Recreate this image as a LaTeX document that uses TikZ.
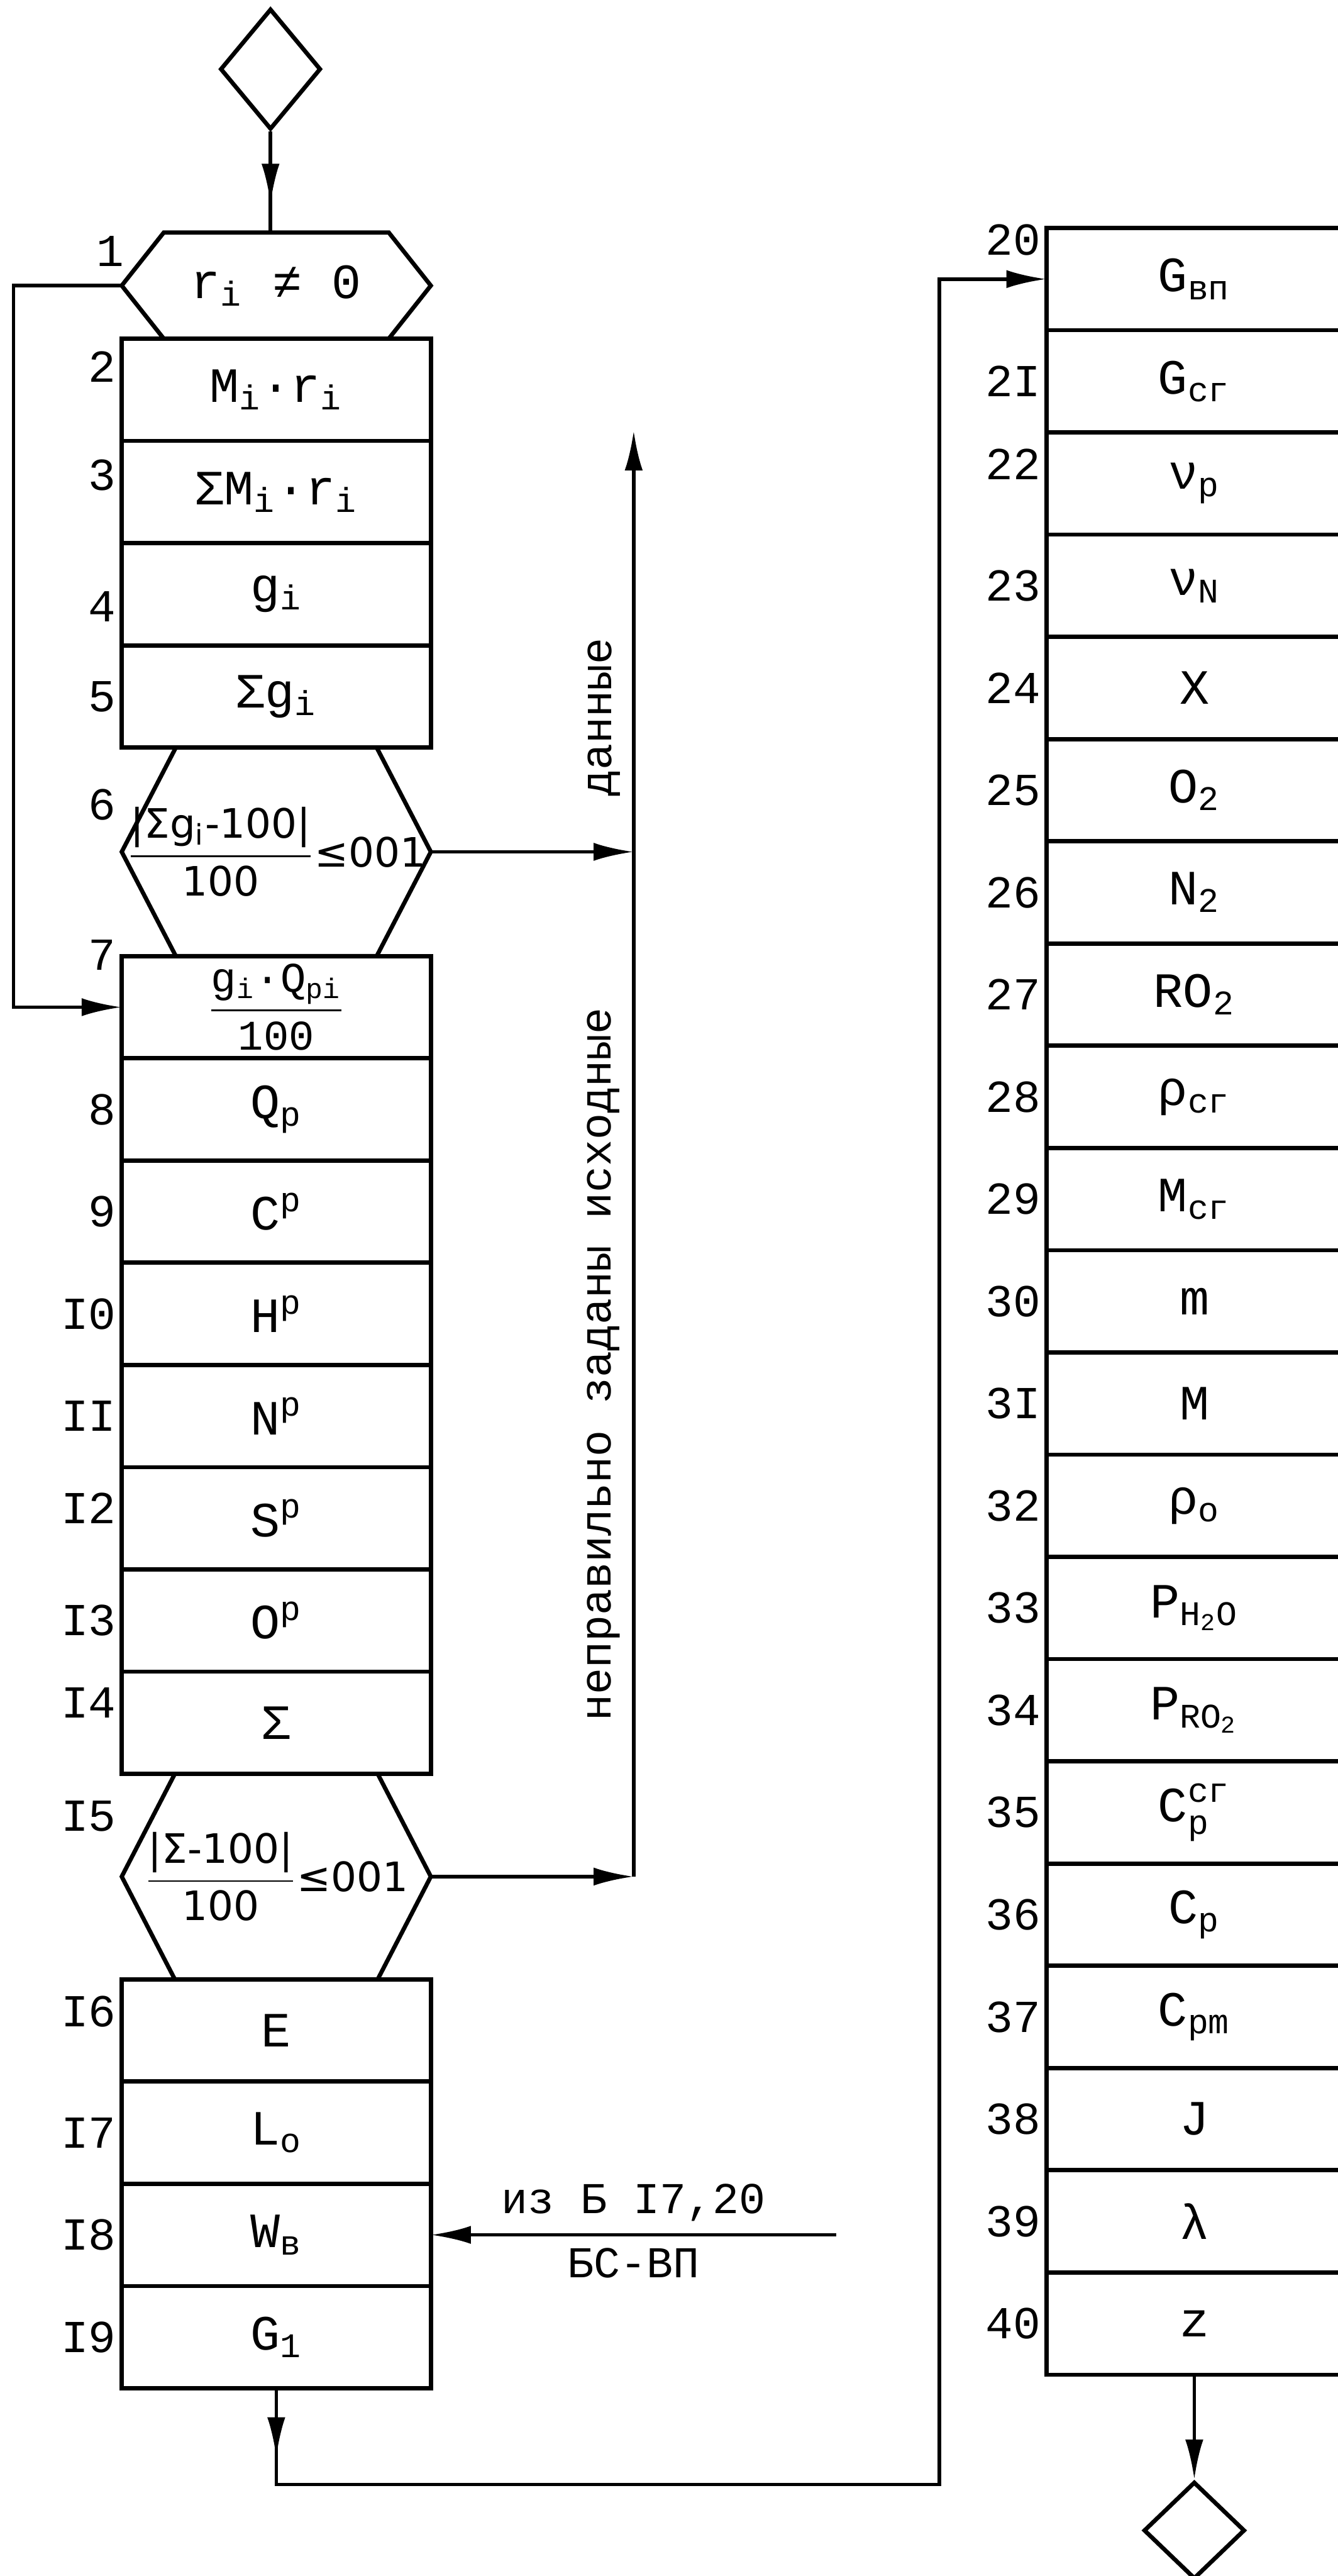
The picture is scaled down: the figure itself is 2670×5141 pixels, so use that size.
\documentclass[tikz,border=0pt]{standalone}
\usepackage{fontspec}
\usepackage{amsmath}
\setmainfont{Liberation Mono}
\newfontfamily\hexfont{DejaVu Sans}
\usetikzlibrary{arrows.meta, positioning, shapes.geometric, decorations.markings}
\newcommand{\hfr}[2]{$\dfrac{\text{#1}}{\text{#2}}$}
\tikzset{
  every picture/.style={line width=1pt},
  lbox/.style={draw, line width=1.2pt, minimum width=30.85mm, minimum height=10.2mm, inner sep=0pt, outer sep=0pt, font=\fontsize{14}{16}\selectfont, label distance=1.7mm},
  rbox/.style={lbox, minimum width=29.55mm, label distance=0.3mm},
  hexnode/.style={lbox, draw=none},
  formula/.style={font=\fontsize{11.5}{13}\hexfont},
  every label/.style={font=\fontsize{13}{15}\selectfont, inner sep=0.4mm},
  side/.style={font=\fontsize{12.5}{14}\selectfont},
  endbox/.style={draw, shape=diamond, inner sep=0pt, line width=1.2pt},
  boxline/.style={line width=1.2pt},
  arrow/.style={-{Latex[length=4mm, width=1.8mm]}},
  midarrow/.style={postaction={decorate}, decoration={markings, mark=at position #1 with {\arrow{Latex[length=4mm, width=1.8mm]}}}},
}

\begin{document}
\begin{tikzpicture}[x=0.05mm, y=-0.05mm]
  \useasboundingbox (0,0) rectangle (2670,5141);

  % left column
  \node[endbox, minimum width=10.05mm, minimum height=12.05mm] (d1) at (540,138) {};
  \node[hexnode, minimum height=10.6mm, label={[yshift=3.4mm, xshift=0.8mm]left:1}] (h1) at (551.5,570) {r\textsubscript{i} ≠ 0};
  \node[lbox, below=0pt of h1, label={[yshift=2.3mm]left:2}] (b2) {M\textsubscript{i}·r\textsubscript{i}};
  \node[lbox, below=0pt of b2, label={[yshift=1.7mm]left:3}] (b3) {ΣM\textsubscript{i}·r\textsubscript{i}};
  \node[lbox, below=0pt of b3, label={[yshift=-1.2mm]left:4}] (b4) {g\textsubscript{i}};
  \node[lbox, below=0pt of b4, label=left:5] (b5) {Σg\textsubscript{i}};
  \node[hexnode, formula, minimum height=20.8mm, below=0pt of b5, label={[yshift=4.7mm]left:6}] (h6) {\hfr{|Σg\textsubscript{i}-100|}{100}≤001};
  \node[lbox, below=0pt of h6, font=\fontsize{12}{14}\selectfont, label={[yshift=5.2mm]left:7}] (b7) {\hfr{g\textsubscript{i}·Q\textsubscript{pi}}{100}};
  \node[lbox, below=0pt of b7, label=left:8] (b8) {Q\textsubscript{p}};
  \node[lbox, below=0pt of b8, label=left:9] (b9) {C\textsuperscript{p}};
  \node[lbox, below=0pt of b9, label=left:I0] (b10) {H\textsuperscript{p}};
  \node[lbox, below=0pt of b10, label=left:II] (b11) {N\textsuperscript{p}};
  \node[lbox, below=0pt of b11, label={[yshift=1mm]left:I2}] (b12) {S\textsuperscript{p}};
  \node[lbox, below=0pt of b12, label=left:I3] (b13) {O\textsuperscript{p}};
  \node[lbox, below=0pt of b13, label={[yshift=2mm]left:I4}] (b14) {Σ};
  \node[hexnode, formula, minimum height=20.5mm, below=0pt of b14, label={[yshift=6mm]left:I5}] (h15) {\hfr{|Σ-100|}{100}≤001};
  \node[lbox, below=0pt of h15, label={[yshift=1.9mm]left:I6}] (b16) {E};
  \node[lbox, below=0pt of b16, label=left:I7] (b17) {L\textsubscript{o}};
  \node[lbox, below=0pt of b17, label=left:I8] (b18) {W\textsubscript{в}};
  \node[lbox, below=0pt of b18, label=left:I9] (b19) {G\textsubscript{1}};

  % right column
  \node[rbox, label={[yshift=3.9mm]left:20}] (b20) at (2384.5,557) {G\textsubscript{вп}};
  \node[rbox, below=0pt of b20, label=left:2I] (b21) {G\textsubscript{сг}};
  \node[rbox, below=0pt of b21, label={[yshift=1.9mm]left:22}] (b22) {ν\textsubscript{p}};
  \node[rbox, below=0pt of b22, label=left:23] (b23) {ν\textsubscript{N}};
  \node[rbox, below=0pt of b23, label=left:24] (b24) {X};
  \node[rbox, below=0pt of b24, label=left:25] (b25) {O\textsubscript{2}};
  \node[rbox, below=0pt of b25, label=left:26] (b26) {N\textsubscript{2}};
  \node[rbox, below=0pt of b26, label=left:27] (b27) {RO\textsubscript{2}};
  \node[rbox, below=0pt of b27, label=left:28] (b28) {ρ\textsubscript{сг}};
  \node[rbox, below=0pt of b28, label=left:29] (b29) {M\textsubscript{сг}};
  \node[rbox, below=0pt of b29, label=left:30] (b30) {m};
  \node[rbox, below=0pt of b30, label=left:3I] (b31) {M};
  \node[rbox, below=0pt of b31, label=left:32] (b32) {ρ\textsubscript{o}};
  \node[rbox, below=0pt of b32, label=left:33] (b33) {P\textsubscript{H\textsubscript{2}O}};
  \node[rbox, below=0pt of b33, label=left:34] (b34) {P\textsubscript{RO\textsubscript{2}}};
  \node[rbox, below=0pt of b34, label=left:35] (b35) {$\text{C}^{\text{сг}}_{\text{p}}$};
  \node[rbox, below=0pt of b35, label=left:36] (b36) {C\textsubscript{p}};
  \node[rbox, below=0pt of b36, label=left:37] (b37) {C\textsubscript{pm}};
  \node[rbox, below=0pt of b37, label=left:38] (b38) {J};
  \node[rbox, below=0pt of b38, label=left:39] (b39) {λ};
  \node[rbox, below=0pt of b39, label=left:40] (b40) {z};
  \node[endbox, minimum width=10.1mm, minimum height=9.7mm] (d2) at (2384,5050) {};

  % hexagon outlines
  \foreach \h/\d in {h1/4.2mm, h6/5.4mm, h15/5.3mm}
    \draw[boxline] (\h.west) -- ([xshift=\d]\h.north west) -- ([xshift=-\d]\h.north east) -- (\h.east)
      -- ([xshift=-\d]\h.south east) -- ([xshift=\d]\h.south west) -- cycle;

  % connectors
  \draw[midarrow=7.2mm] (d1.south) -- (d1.south |- h1.north);
  \draw[arrow] (h1.west) -- ++(-216,0) |- (b7.west);
  \coordinate (up) at (1265,859);
  \draw[arrow] (h6.east) -- (h6.east -| up);
  \draw[arrow] (h15.east) -- (h15.east -| up);
  \draw[arrow] (h15.east -| up) -- (h6.east -| up) node[midway, sloped, above, side] {неправильно заданы исходные}
    -- (up) node[pos=0.32, sloped, above, side] {данные};
  \coordinate[right=40.45mm of b18.east] (src);
  \draw[arrow] (src) -- (b18.east) node[midway, above, side] {из Б I7,20} node[midway, below, side] {БС-ВП};
  \draw[arrow, midarrow=6.9mm] (b19.south) -- ++(0,192) -| ([xshift=-10.7mm]b20.west) -- (b20.west);
  \draw[arrow] (d2.north |- b40.south) -- (d2.north);
\end{tikzpicture}
\end{document}
